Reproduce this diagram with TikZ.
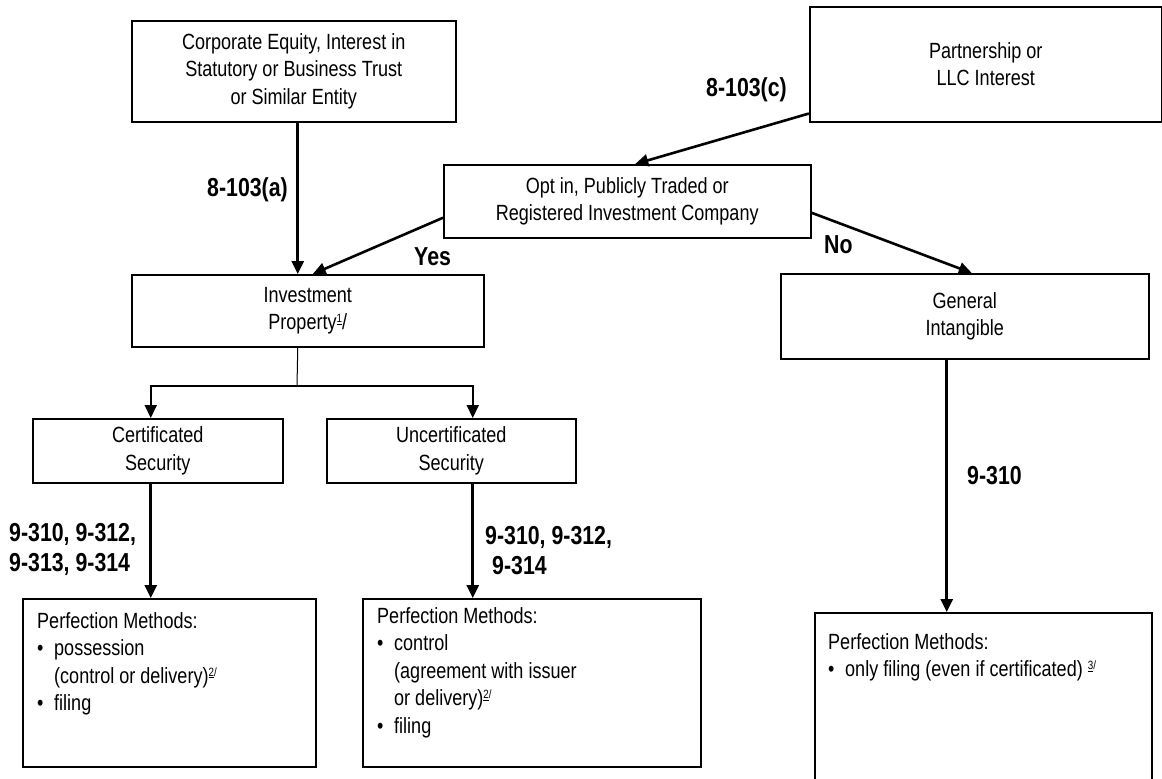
\documentclass[tikz,border=0pt]{standalone}
\usepackage{fontspec}
\setmainfont{Liberation Sans}[FakeStretch=0.82]
\usetikzlibrary{arrows.meta}
\newcommand\nf{\fontsize{22}{27.5}\selectfont}
\newcommand\lf{\fontsize{26}{30}\selectfont\bfseries}
\newcommand\fnm[1]{\raisebox{7pt}{\fontsize{12}{12}\selectfont\underline{#1}/}}
\newcommand\bul{\makebox[17pt][l]{•}}
\newcommand\ind{\hspace*{17pt}}
\begin{document}
\begin{tikzpicture}[x=1pt,y=-1pt,
  box/.style={draw, line width=1.5pt, inner sep=0pt, anchor=north west, align=center, font=\nf},
  listtext/.style={inner sep=0pt, anchor=north west, align=left, font=\nf},
  lbl/.style={inner sep=0pt, font=\lf},
  arr/.style={line width=2.6pt, -{Triangle[length=13pt,width=12pt]}},
  arrsplit/.style={line width=2pt, -{Triangle[length=13pt,width=12pt]}},
  thinline/.style={line width=1pt}]
\useasboundingbox (0,0) rectangle (1162,779);
% boxes
\node[box, minimum width=324pt, minimum height=101pt] (A) at (131,20)
  {Corporate Equity, Interest in\\Statutory or Business Trust\\or Similar Entity};
\node[box, minimum width=352pt, minimum height=115pt] (B) at (809,6)
  {Partnership or\\LLC Interest};
\node[box, minimum width=367pt, minimum height=73pt] (C) at (443,164)
  {Opt in, Publicly Traded or\\Registered Investment Company};
\node[box, minimum width=352pt, minimum height=72pt] (D) at (131,274)
  {Investment\\Property\raisebox{7pt}{\fontsize{12}{12}\selectfont\underline{1}}/};
\node[box, minimum width=368pt, minimum height=85pt] (E) at (780,273)
  {General\\Intangible};
\node[box, minimum width=250pt, minimum height=64pt] (F) at (32,418)
  {Certificated\\Security};
\node[box, minimum width=249pt, minimum height=64pt] (G) at (326,418)
  {Uncertificated\\Security};
\node[box, minimum width=293pt, minimum height=168pt] (H) at (22,598) {};
\node[box, minimum width=338pt, minimum height=168pt] (I) at (362,598) {};
\node[box, minimum width=337pt, minimum height=176pt] (J) at (814,612) {};
% box texts
\node[listtext] (Ht) at (37,612)
  {Perfection Methods:\\\bul possession\\\ind (control or delivery)\fnm{2}\\\bul filing};
\node[listtext] (It) at (377,607)
  {Perfection Methods:\\\bul control\\\ind (agreement with issuer\\\ind or delivery)\fnm{2}\\\bul filing};
\node[listtext] (Jt) at (828,633)
  {Perfection Methods:\\\bul only filing (even if certificated) \fnm{3}};
% labels
\node[lbl, anchor=west] (la) at (207,190) {8-103(a)};
\node[lbl, anchor=west] (lyes) at (414,257) {Yes};
\node[lbl, anchor=west] (lc) at (706,90) {8-103(c)};
\node[lbl, anchor=west] (lno) at (824,245) {No};
\node[lbl, anchor=north west, align=left] (lf) at (9,523) {9-310, 9-312,\\9-313, 9-314};
\node[lbl, anchor=north west, align=left] (lg) at (485,526) {9-310, 9-312,\\\hspace*{7pt}9-314};
\node[lbl, anchor=west] (le) at (967,476) {9-310};
% connectors
\draw[arr] ([xshift=4pt]A.south) -- ([xshift=-10pt]D.north);
\draw[arr] ([yshift=9pt]B.south west) -- ([xshift=8pt]C.north);
\draw[arr] ([yshift=-16.5pt]C.west) -- ([xshift=5pt]D.north);
\draw[arr] ([yshift=-11.5pt]C.east) -- ([xshift=7pt]E.north);
\draw[arr] ([xshift=-18pt]E.south) -- ([xshift=-36.5pt]J.north);
\coordinate (split) at (297,386);
\draw[thinline] ([xshift=-10pt]D.south) -- (split);
\draw[arrsplit] (split) -| ([xshift=-7pt]F.north);
\draw[arrsplit] (split) -| ([xshift=21.5pt]G.north);
\draw[arr] ([xshift=-7pt]F.south) -- ([xshift=-18.5pt]H.north);
\draw[arr] ([xshift=21.5pt]G.south) -- ([xshift=-59pt]I.north);
\end{tikzpicture}
\end{document}
